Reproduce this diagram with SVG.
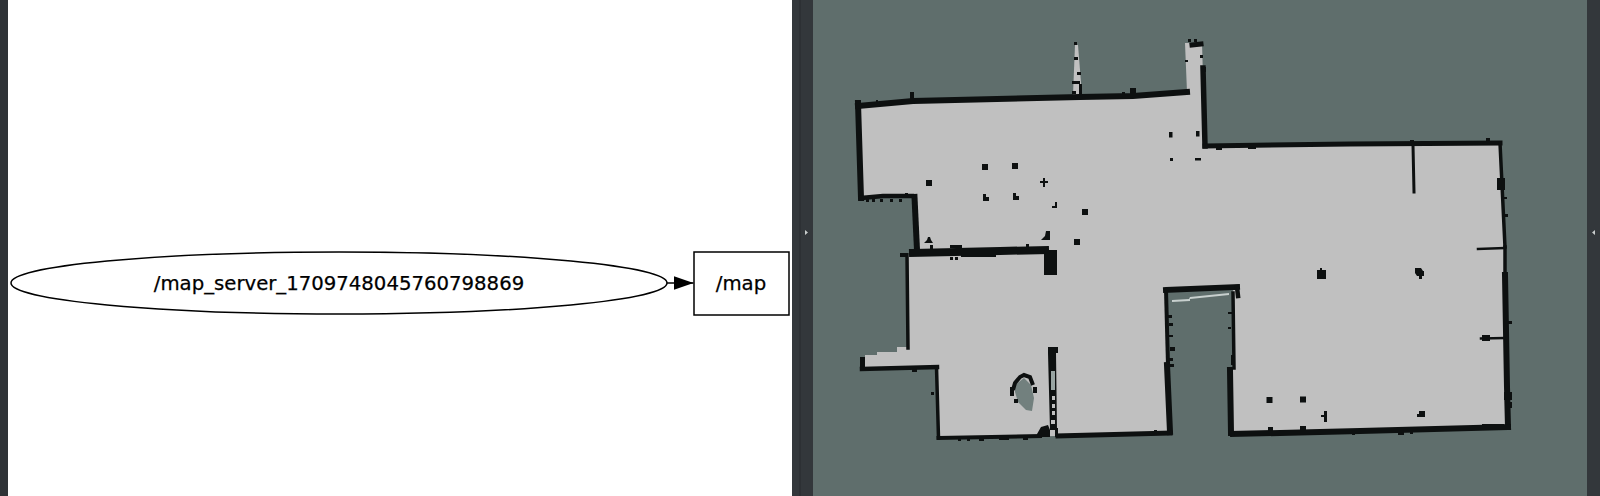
<svg xmlns="http://www.w3.org/2000/svg" width="1600" height="496" viewBox="0 0 1600 496">
<style>
.lbl{font-family:"DejaVu Sans",sans-serif;font-size:19.7px;fill:#000;stroke:#000;stroke-width:.25;text-anchor:middle}
.shape{fill:#fff;stroke:#000;stroke-width:1.5}
.w{fill:none;stroke:#0d1010;stroke-linejoin:miter;stroke-linecap:square}
.d{fill:#0d1010}
</style>
<defs><marker id="ah" markerUnits="userSpaceOnUse" markerWidth="20" markerHeight="16" refX="20" refY="8" orient="auto"><path d="M0 1 L20 8 L0 15 Z" fill="#000"/></marker></defs>
<rect width="1600" height="496" fill="#fff"/>
<rect x="0" y="0" width="8" height="496" fill="#2f3337"/>
<rect x="792" y="0" width="21" height="496" fill="#33373b"/>
<rect x="799.500" y="0" width="1" height="496" fill="#282b2f"/>
<rect x="813" y="0" width="774" height="496" fill="#5f6e6c"/>
<rect x="1587" y="0" width="13" height="496" fill="#33373b"/>
<path d="M805 230 l3 2.500 l-3 2.500z M1595 230 l-3 2.500 l3 2.500z" fill="#c8cccc"/>
<g id="map">
<path fill="#c0c0c0" d="M860 106 L913 102 L1073 97 L1187 92 L1185 43 L1202 43 L1205 146 L1500 144 L1505 247 L1508 427 L1233 433 L1232 293 L1235 286 L1166 288 L1169 433 L1057 436 L939 438 L937 367 L865 368 L865 355 L877 355 L877 352 L897 352 L897 347 L908 347 L907 255 L917 250 L914 197 L862 198 Z"/>
<path fill="#c0c0c0" d="M1073 95 L1075 45 L1078 45 L1082 95 Z"/>
<g class="w">
<polyline stroke-width="6" points="858,103 861,198"/>
<polyline stroke-width="4.500" points="861,198 883,196 912,196"/>
<polyline stroke-width="6" points="914.500,197 917,250"/>
<polyline stroke-width="6" points="858,106 913,101 1080,97 1133,96 1187,92"/>
<polyline stroke-width="5" points="1192,45 1201,44"/>
<polyline stroke-width="5.500" points="1203,68 1205,146"/>
<polyline stroke-width="5" points="1205,146 1350,144 1500,143"/>
<polyline stroke-width="3.500" points="1500,143 1505,247"/>
<polyline stroke-width="6" points="1505,275 1507,387 1508,427"/>
<polyline stroke-width="3.500" points="1505,247 1505,275"/>
<polyline stroke-width="6" points="1508,427 1360,431 1233,434"/>
<polyline stroke-width="6" points="1230,370 1231,433"/>
<polyline stroke-width="3.500" points="1233,293 1234,368"/>
<polyline stroke-width="6" points="1166,290 1237,287"/>
<polyline stroke-width="4.500" points="1237,287 1238,296"/>
<polyline stroke-width="4" points="1166,290 1168,365"/>
<polyline stroke-width="6" points="1167,365 1170,432"/>
<polyline stroke-width="5" points="1170,433 1058,436"/>
<polyline stroke-width="8" points="913,253 1000,251 1045,250"/>
<polyline stroke-width="3.500" points="907,255 908,348"/>
<polyline stroke-width="4.500" points="862,369 937,367"/>
<polyline stroke-width="3.500" points="936.500,367 938.500,438"/>
<polyline stroke-width="4" points="938.500,438 1040,436"/>
<polyline stroke-width="3" points="1413,145 1414,192"/>
<polyline stroke-width="2.500" points="1478,249 1504,248"/>
<polyline stroke-width="2.500" points="1481,338.500 1504,338"/>
</g>
<rect class="d" x="1044" y="250" width="13" height="25"/>
<rect class="d" x="860" y="357" width="5" height="12"/>
<path class="d" d="M1048 347 L1058 347 L1058 353 L1056 353 L1057 430 L1050 430 L1048 353 Z"/>
<path fill="#98a4a2" d="M1051 371 L1055 371 L1055 390 L1051 390 Z"/>
<path fill="#c0c0c0" d="M1052 396 h3 v4 h-3z M1052 404 h3 v4 h-3z M1052 411 h3 v4 h-3z M1051 420 h4 v4 h-4z"/>
<path class="d" d="M1037 434 L1041 427 L1048 425 L1050 430 L1050 437 L1037 437 Z M1055 428 L1058 428 L1058 437 L1055 437 Z"/>
<path fill="#5f6e6c" d="M1173 297 L1228 291 L1229 294 L1190 298 L1190 301 L1172 302 Z"/>
<path fill="#c8d0ce" d="M1172 300 L1189 299 L1190 297 L1229 293 L1229 295 L1190 299 L1190 301 L1172 302 Z"/>
<path fill="#72807e" d="M1015 385 L1024 378 L1031 385 L1034 398 L1032 411 L1026 410 L1018 402 L1015 392 Z"/>
<path fill="none" stroke="#0d1010" stroke-width="4" d="M1013 390 L1015 383 L1020 377 L1024 375 L1030 377 L1033 385"/>
<path class="d" d="M1010 387 h4 v9 h-4z M1033 387 h4 v6 h-4z M1014 399 h4 v4 h-4z"/>
<path class="d" d="M1074 42 h3 v3 h-3z M1074 57 h4 v3 h-4z M1077 72 h4 v3 h-4z M1072 81 h8 v3 h-8z M1079 84 h3 v12 h-3z M1072 91 h4 v3 h-4z M1188 39 h3 v3 h-3z M1194 39 h3 v3 h-3z M1185 60 h3 v2 h-3z M1200 55 h3 v3 h-3z M1202 67 h4 v5 h-4z"/>
<path class="d" d="M910 92 h4 v8 h-4z M876 100 h2 v4 h-2z M900 100 h3 v4 h-3z M1130 88 h6 v8 h-6z M1122 92 h3 v3 h-3z M856 100 h5 v5 h-5z"/>
<path class="d" d="M866 199 h3 v3 h-3z M872 199 h3 v3 h-3z M880 199 h3 v3 h-3z M890 199 h3 v3 h-3z M899 199 h3 v3 h-3z M905 193 h3 v4 h-3z"/>
<path class="d" d="M900 253 h8 v4 h-8z M950 257 h3 v3 h-3z M955 257 h3 v3 h-3z M930 245 h3 v4 h-3z M950 245 h12 v3 h-12z M1026 244 h3 v4 h-3z M961 255 h35 v2 h-35z"/>
<path class="d" d="M1216 147 h6 v3 h-6z M1248 146 h8 v3 h-8z M1410 140 h4 v4 h-4z M1486 138 h4 v5 h-4z M1497 178 h8 v12 h-8z M1503 197 h4 v2 h-4z M1504 214 h4 v3 h-4z M1504 321 h8 v3 h-8z M1482 335 h8 v6 h-8z M1504 392 h8 v8 h-8z M1505 402 h7 v6 h-7z M1482 424 h22 v5 h-22z M1268 427 h5 v4 h-5z M1300 426 h6 v5 h-6z M1352 432 h3 v3 h-3z M1398 432 h6 v3 h-6z M1410 431 h3 v3 h-3z"/>
<path class="d" d="M1228 312 h4 v2 h-4z M1228 327 h3 v2 h-3z M1231 355 h4 v10 h-4z"/>
<path class="d" d="M1167 315 h5 v3 h-5z M1169 323 h4 v3 h-4z M1169 335 h4 v2 h-4z M1170 347 h5 v4 h-5z M1169 358 h4 v3 h-4z M1169 364 h5 v3 h-5z M1166 364 h3 v14 h-3z M1167 407 h4 v6 h-4z M1167 417 h4 v3 h-4z M1154 430 h3 v5 h-3z"/>
<path class="d" d="M931 392 h3 v3 h-3z M912 369 h5 v3 h-5z M958 438 h3 v3 h-3z M967 438 h3 v3 h-3z M979 437 h5 v4 h-5z M999 437 h10 v3 h-10z M1023 437 h5 v3 h-5z"/>
<rect class="d" x="982" y="164" width="6" height="6"/>
<rect class="d" x="1012" y="163" width="6" height="6"/>
<rect class="d" x="926" y="180" width="6" height="6"/>
<path class="d" d="M1043 178 h2 v3 h3 v2 h-3 v4 h-2 v-4 h-3 v-2 h3z"/>
<path class="d" d="M983 194 h3 v3 h3 v4 h-6z M1013 193 h3 v3 h3 v4 h-6z M1052 206 h3 v-4 h2 v6 h-5z"/>
<rect class="d" x="1082" y="209" width="6" height="6"/>
<rect class="d" x="1074" y="239" width="6" height="6"/>
<path class="d" d="M1041 240 L1045 236 L1046 231 L1050 231 L1050 240 Z"/>
<path class="d" d="M924 243 L927 240 L928 237 L930 237 L931 240 L933 243 Z"/>
<rect class="d" x="1169" y="132" width="3.500" height="5.500"/>
<rect class="d" x="1196" y="131" width="3.500" height="5.500"/>
<rect class="d" x="1170" y="158" width="3" height="3"/>
<rect class="d" x="1195" y="158" width="6" height="2.500"/>
<rect class="d" x="1266.500" y="397" width="6" height="6"/>
<rect class="d" x="1300" y="396.500" width="6" height="6"/>
<path class="d" d="M1324 411 h3 v11 h-3 v-5 h-3 v-2 h3z"/>
<path class="d" d="M1419 411 h6 v6 h-8 v-3 h2z"/>
<path class="d" d="M1317 270 h3 v-2 h2 v2 h4 v9 h-9z"/>
<path class="d" d="M1415 268 h6 l2 3 h1 v5 h-2 v3 h-3 v-3 h-2 l-2 -3z"/>
</g>
<g id="connectors">
<line x1="667" y1="283" x2="693.500" y2="283" stroke="#000" stroke-width="1.500" marker-end="url(#ah)"/>
</g>
<g id="node-map-server">
<ellipse class="shape" cx="339" cy="283" rx="328" ry="31"/>
<text class="lbl" x="339" y="290">/map_server_1709748045760798869</text>
</g>
<g id="node-map">
<rect class="shape" x="694" y="252" width="95" height="63"/>
<text class="lbl" x="741" y="290">/map</text>
</g>
</svg>
